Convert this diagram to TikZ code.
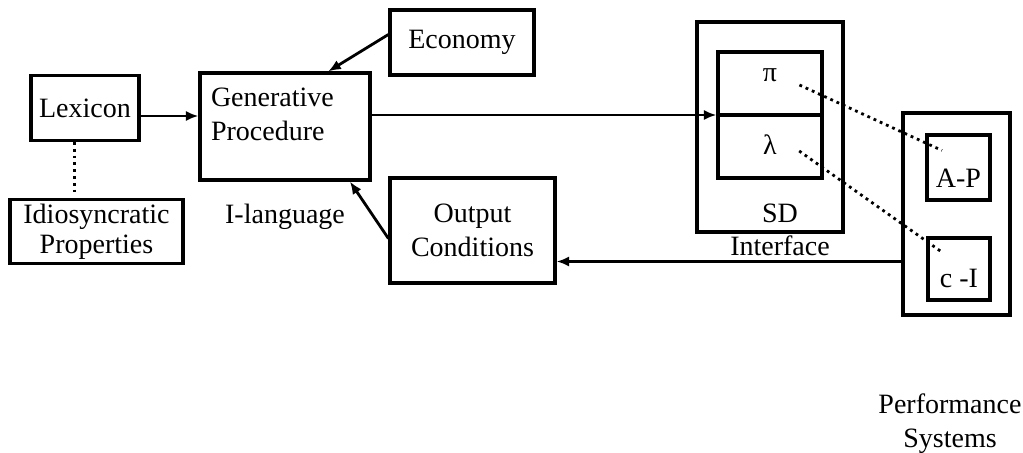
\documentclass[tikz,border=0pt]{standalone}
\usepackage{fontspec}
\setmainfont{Liberation Serif}
\usepackage{tikz}
\usetikzlibrary{arrows.meta,positioning,calc}

\begin{document}
\begin{tikzpicture}[
    x=0.5pt, y=-0.5pt,
    font=\fontsize{14}{17}\selectfont,
    box/.style={draw, line width=1.6pt, inner sep=2pt, align=center},
    word/.style={inner sep=1pt, align=center},
    arr/.style={-{Latex[length=2.2mm, width=1.8mm]}, line width=1.4pt},
    dots/.style={dotted, line width=1.4pt}
  ]
    \useasboundingbox (0,0) rectangle (1023,453);

    % left side
    \node[box, minimum width=54pt, minimum height=32.5pt] (lex) at (85,108) {Lexicon};
    \node[box, minimum width=86.5pt, minimum height=31.5pt] (idio) at (96.5,231.5) {Idiosyncratic\\[-2pt]Properties};
    \node[box, minimum width=85pt, minimum height=53.5pt, text width=74pt, align=left] (gen) at (285,126.5) {Generative\\Procedure\\[-10pt]\strut};
    \node[word] (ilang) at (285,217) {I-language};
    \node[box, minimum width=72pt, minimum height=32.5pt] (eco) at (462,42.5) {Economy};
    \node[box, minimum width=82.5pt, minimum height=52.5pt] (outc) at (472.5,230.5) {Output\\Conditions};

    % interface
    \node[box, minimum width=73pt, minimum height=105pt] (sdout) at (770,127) {};
    \node[box, minimum width=52pt, minimum height=63pt] (sdin) at (770,115) {};
    \node[word] (pi) at (770,75) {π};
    \node[word] (lam) at (770,145) {λ};
    \node[word] (sd) at (780,213) {SD};
    \node[word] (intf) at (780,246) {Interface};

    % performance systems
    \node[box, minimum width=53.5pt, minimum height=101pt] (perf) at (956.5,214) {};
    \node[box, minimum width=31.5pt, minimum height=32.5pt, text height=20pt, text depth=0pt] (ap) at (958.5,167.5) {A-P};
    \node[box, minimum width=31pt, minimum height=31pt, text height=19pt, text depth=0pt] (ci) at (959,269) {c -I};
    \node[word] (perfsys) at (950,424) {Performance\\Systems};

    \coordinate (ret) at ([yshift=-15.5pt]outc.east);

    \draw[line width=1.6pt] (sdin.west) -- (sdin.east);
    \draw[arr] ([yshift=-4pt]lex.east) -- ([yshift=-4pt]lex.east -| gen.west);
    \draw[arr] (gen.east |- sdin.west) -- (sdin.west);
    \draw[arr] ([yshift=4pt]eco.west) -- ($(gen.north)!0.5!(gen.north east)$);
    \draw[arr] ([yshift=-4pt]outc.west) -- ($(gen.south)!0.75!(gen.south east)$);
    \draw[arr] (perf.west |- ret) -- (ret);
    \draw[dots] (lex.south -| idio.north) ++(-11pt,0) -- ++(0,-27pt);
    \draw[dots] ([shift={(10pt,-5pt)}]pi.east) -- ($(ap.north west)!0.5!(ap.center)$);
    \draw[dots] ([shift={(10pt,-3pt)}]lam.east) -- ($(ci.north west)!0.5!(ci.center)$);
\end{tikzpicture}
\end{document}
